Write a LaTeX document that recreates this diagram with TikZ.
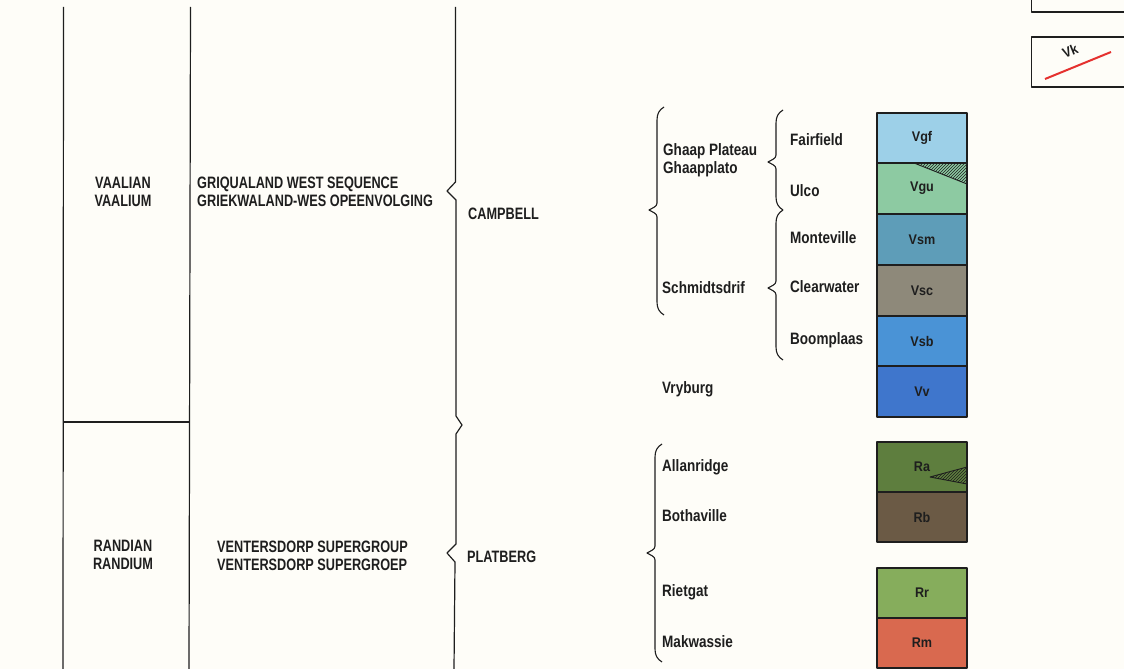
\documentclass[tikz,border=0pt]{standalone}
\usepackage{fontspec}
\setmainfont{Liberation Sans}
\newfontfamily\lcfont{Liberation Sans}[FakeStretch=0.82]
\newfontfamily\ucfont{Liberation Sans}[FakeStretch=0.77]
\newfontfamily\boxfont{Liberation Sans}[FakeStretch=0.9]
\usetikzlibrary{patterns}
\definecolor{bg}{HTML}{FEFDF8}
\definecolor{ink}{HTML}{1E1E1E}
\definecolor{cVgf}{HTML}{9DD0E8}
\definecolor{cVgu}{HTML}{8DCAA2}
\definecolor{cVsm}{HTML}{5E9DB8}
\definecolor{cVsc}{HTML}{8E897A}
\definecolor{cVsb}{HTML}{4A93D6}
\definecolor{cVv}{HTML}{3F76CC}
\definecolor{cRa}{HTML}{5E7E3E}
\definecolor{cRb}{HTML}{6B5A45}
\definecolor{cRr}{HTML}{86AD5C}
\definecolor{cRm}{HTML}{D9694F}
\definecolor{redline}{HTML}{E5312F}
\newcommand\curlybr[4]{% x, top, tip, bottom
  \draw[bracestyle] (#1+7,#2) .. controls (#1+2,#2+3) and (#1,#2+7) .. (#1,#2+13)
    -- (#1,#3-7) .. controls (#1,#3-3) and (#1-5,#3-2) .. (#1-8,#3)
    .. controls (#1-5,#3+2) and (#1,#3+3) .. (#1,#3+7)
    -- (#1,#4-13) .. controls (#1,#4-7) and (#1+2,#4-3) .. (#1+7,#4);}
\tikzset{
  rule/.style={draw=ink, line width=1.2pt},
  bracestyle/.style={draw=ink, line width=1.1pt},
  uc/.style={font=\ucfont\bfseries\fontsize{16.5}{18}\selectfont, text=ink, inner sep=0pt},
  lc/.style={font=\lcfont\bfseries\fontsize{16.5}{18}\selectfont, text=ink, inner sep=0pt},
  unit/.style={draw=ink, line width=1.3pt, minimum width=90pt, inner sep=0pt,
    font=\boxfont\bfseries\fontsize{14}{16}\selectfont, text=ink},
  hatch/.style={pattern=north east lines, pattern color=ink, draw=ink, line width=0.9pt}
}
\begin{document}
\begin{tikzpicture}[x=1pt,y=-1pt,line join=round]
\fill[bg] (0,0) rectangle (1124,669);
\useasboundingbox (0,0) rectangle (1124,669);

% left columns
\draw[rule] (63.5,7) -- (63,669);
\draw[rule] (190.5,7) -- (189,669);
\draw[rule] (63,422) -- (190,422);
\draw[rule] (455.5,7) -- (455.5,182) -- (447,191) -- (456,200) -- (456,416) -- (462,425)
  -- (456,434) -- (456,544) -- (447,553) -- (455,562) -- (454,669);

\node[uc, anchor=base] (vaalian) at (123,188) {VAALIAN};
\node[uc, anchor=base] (vaalium) at (123,206) {VAALIUM};
\node[uc, anchor=base west] (gws1) at (197,188) {GRIQUALAND WEST SEQUENCE};
\node[uc, anchor=base west] (gws2) at (197,206) {GRIEKWALAND-WES OPEENVOLGING};
\node[uc, anchor=base west] (campbell) at (468,219) {CAMPBELL};
\node[uc, anchor=base] (randian) at (123,551) {RANDIAN};
\node[uc, anchor=base] (randium) at (123,569) {RANDIUM};
\node[uc, anchor=base west] (vsg1) at (217,552) {VENTERSDORP SUPERGROUP};
\node[uc, anchor=base west] (vsg2) at (217,570) {VENTERSDORP SUPERGROEP};
\node[uc, anchor=base west] (platberg) at (467,562) {PLATBERG};

% braces right
\curlybr{657}{107}{210}{315}
\curlybr{776}{110}{162}{210}
\curlybr{776}{210}{288}{360}
\curlybr{655}{444}{553}{662}

\node[lc, anchor=base west] (ghaap1) at (663,155) {Ghaap Plateau};
\node[lc, anchor=base west] (ghaap2) at (663,173) {Ghaapplato};
\node[lc, anchor=base west] (schm) at (662,293) {Schmidtsdrif};
\node[lc, anchor=base west] (fair) at (790,145) {Fairfield};
\node[lc, anchor=base west] (ulco) at (790,196) {Ulco};
\node[lc, anchor=base west] (mont) at (790,243) {Monteville};
\node[lc, anchor=base west] (clear) at (790,292) {Clearwater};
\node[lc, anchor=base west] (boom) at (790,344) {Boomplaas};
\node[lc, anchor=base west] (vry) at (662,393) {Vryburg};
\node[lc, anchor=base west] (allan) at (662,471) {Allanridge};
\node[lc, anchor=base west] (both) at (662,521) {Bothaville};
\node[lc, anchor=base west] (riet) at (662,596) {Rietgat};
\node[lc, anchor=base west] (makw) at (662,647) {Makwassie};

% colour units
\node[unit, fill=cVgf, minimum height=50pt] (Vgf) at (922,138) {Vgf};
\node[unit, fill=cVgu, minimum height=51pt] (Vgu) at (922,188.5) {Vgu};
\node[unit, fill=cVsm, minimum height=51pt] (Vsm) at (922,239.5) {Vsm};
\node[unit, fill=cVsc, minimum height=51pt] (Vsc) at (922,290.5) {Vsc};
\node[unit, fill=cVsb, minimum height=50pt] (Vsb) at (922,341) {Vsb};
\node[unit, fill=cVv, minimum height=51pt] (Vv) at (922,391.5) {Vv};
\draw[hatch] (914,163) -- (967,163) -- (967,184) -- cycle;

\node[unit, fill=cRa, minimum height=50pt] (Ra) at (922,467) {Ra};
\node[unit, fill=cRb, minimum height=50pt] (Rb) at (922,517) {Rb};
\draw[hatch] (930,477) -- (967,467) -- (967,484) -- cycle;
\node[unit, fill=cRr, minimum height=50pt] (Rr) at (922,593) {Rr};
\node[unit, fill=cRm, minimum height=50pt] (Rm) at (922,643) {Rm};

% legend boxes top right
\draw[rule] (1031.5,0) -- (1031.5,12) -- (1124,12);
\draw[rule] (1131,37) -- (1031.5,37) -- (1031.5,87) -- (1131,87);
\draw[draw=redline, line width=2pt] (1045,79) -- (1111,52);
\node[font=\boxfont\bfseries\fontsize{14}{16}\selectfont, text=ink, rotate=22, inner sep=0pt] (vk) at (1070,51) {Vk};
\end{tikzpicture}
\end{document}
